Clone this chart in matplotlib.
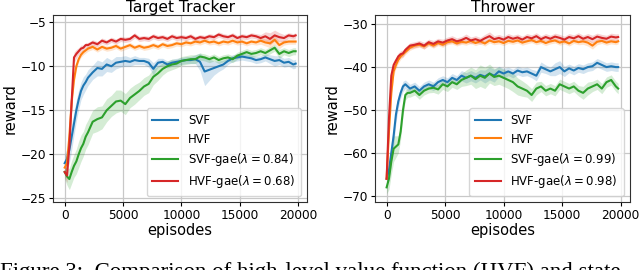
import matplotlib.pyplot as plt
import numpy as np

# episodes at which the (smoothed) reward was logged
episodes = list(range(0, 2000, 200)) + list(range(2000, 19800, 400)) + [19800]

labels_tt = ["SVF", "HVF", r"SVF-gae($\lambda=0.84$)", r"HVF-gae($\lambda=0.68$)"]
labels_th = ["SVF", "HVF", r"SVF-gae($\lambda=0.99$)", r"HVF-gae($\lambda=0.98$)"]
colors = ["#1f77b4", "#ff7f0e", "#2ca02c", "#d62728"]

# ---- Target Tracker ----
tt_svf = [-21.0, -20.5, -19.5, -18.0, -16.5, -15.0, -13.8, -12.8, -12.2, -11.8,
          -11.3, -10.7, -10.2, -10.3, -9.8, -10.0, -9.6, -9.5, -9.4, -9.5,
          -9.3, -9.4, -9.4, -9.6, -10.3, -9.6, -9.5, -9.8, -9.6, -9.5,
          -9.4, -9.3, -9.3, -9.2, -9.5, -10.6, -10.4, -10.2, -10.0, -9.8,
          -9.4, -9.1, -9.0, -8.9, -9.0, -9.1, -9.3, -9.2, -9.0, -9.2,
          -9.4, -9.3, -9.6, -9.5, -9.8, -9.7]
tt_hvf = [-21.5, -21.0, -18.0, -14.0, -11.5, -10.0, -9.2, -8.7, -8.4, -8.2,
          -8.0, -7.8, -8.1, -7.8, -8.0, -7.9, -7.7, -8.0, -7.8, -7.6,
          -7.9, -7.7, -7.9, -7.8, -7.6, -7.8, -7.5, -7.7, -7.6, -7.4,
          -7.5, -7.3, -7.4, -7.2, -7.3, -7.1, -7.3, -7.2, -7.4, -7.2,
          -7.3, -7.1, -7.3, -7.2, -7.4, -7.2, -7.3, -7.1, -7.3, -7.4,
          -7.0, -7.6, -7.3, -7.2, -7.2, -7.2]
tt_svf_gae = [-22.0, -22.5, -22.8, -22.0, -21.3, -20.8, -20.0, -19.3, -18.8, -18.0,
              -17.5, -16.3, -16.0, -15.8, -15.0, -14.5, -14.0, -13.9, -14.3, -13.6,
              -13.2, -12.8, -12.3, -12.0, -11.2, -10.8, -10.3, -10.0, -9.8, -9.7,
              -9.4, -9.3, -9.2, -9.2, -8.9, -9.0, -9.2, -9.0, -9.3, -9.1,
              -9.0, -9.2, -8.8, -8.6, -8.4, -8.6, -8.5, -8.3, -8.5, -8.2,
              -7.9, -8.6, -8.3, -8.5, -8.3, -8.3]
tt_hvf_gae = [-22.0, -22.4, -19.0, -14.0, -9.0, -8.6, -8.3, -8.0, -7.9, -7.6,
              -7.6, -7.3, -7.5, -7.1, -7.3, -7.0, -7.2, -6.9, -7.0, -6.9,
              -6.5, -6.9, -6.8, -6.9, -6.6, -6.8, -6.7, -6.9, -6.6, -6.8,
              -6.7, -6.8, -6.6, -6.9, -6.7, -6.8, -6.6, -6.7, -6.4, -6.6,
              -6.7, -6.5, -6.8, -6.6, -6.7, -6.5, -6.6, -6.8, -6.6, -6.9,
              -6.5, -6.7, -6.8, -6.5, -6.6, -6.5]

tt_svf_std = [1.0, 1.2, 1.5, 1.5, 1.3, 1.2, 1.1, 1.0, 1.0, 0.9,
              0.9, 0.8, 0.9, 0.8, 0.8, 0.7, 0.7, 0.6, 0.6, 0.5,
              0.5, 0.4, 0.4, 0.5, 0.7, 0.5, 0.4, 0.4, 0.4, 0.4,
              0.4, 0.4, 0.4, 0.5, 1.0, 1.6, 1.2, 0.8, 0.6, 0.5,
              0.4, 0.4, 0.4, 0.4, 0.4, 0.4, 0.4, 0.4, 0.4, 0.5,
              0.6, 0.5, 0.5, 0.5, 0.5, 0.5]
tt_hvf_std = [0.6, 0.8, 1.0, 1.0, 0.6, 0.4, 0.3, 0.3, 0.3, 0.3,
              0.3, 0.3, 0.3, 0.3, 0.3, 0.3, 0.3, 0.3, 0.3, 0.3,
              0.3, 0.3, 0.3, 0.3, 0.3, 0.3, 0.3, 0.3, 0.3, 0.3,
              0.3, 0.3, 0.3, 0.3, 0.3, 0.3, 0.3, 0.3, 0.3, 0.3,
              0.3, 0.3, 0.3, 0.3, 0.3, 0.3, 0.3, 0.4, 0.4, 0.5,
              0.5, 0.4, 0.3, 0.3, 0.3, 0.3]
tt_svf_gae_std = [0.8, 1.0, 1.2, 1.3, 1.3, 1.4, 1.5, 1.5, 1.4, 1.4,
                  1.4, 1.3, 1.4, 1.3, 1.3, 1.2, 1.3, 1.2, 1.2, 1.1,
                  1.1, 1.0, 1.0, 1.0, 0.9, 0.8, 0.7, 0.6, 0.6, 0.5,
                  0.5, 0.5, 0.5, 0.5, 0.4, 0.4, 0.4, 0.4, 0.4, 0.4,
                  0.4, 0.4, 0.4, 0.4, 0.4, 0.4, 0.4, 0.4, 0.4, 0.4,
                  0.4, 0.5, 0.4, 0.4, 0.4, 0.4]
tt_hvf_gae_std = [0.6, 0.8, 1.0, 1.0, 0.6, 0.5, 0.4, 0.4, 0.3, 0.3,
                  0.3, 0.3, 0.3, 0.3, 0.3, 0.3, 0.3, 0.3, 0.3, 0.3,
                  0.3, 0.3, 0.3, 0.3, 0.3, 0.3, 0.3, 0.3, 0.3, 0.3,
                  0.3, 0.3, 0.3, 0.3, 0.3, 0.3, 0.3, 0.3, 0.3, 0.3,
                  0.3, 0.3, 0.3, 0.3, 0.3, 0.3, 0.3, 0.4, 0.5, 0.7,
                  0.6, 0.5, 0.4, 0.3, 0.3, 0.3]

# ---- Thrower ----
th_svf = [-66.0, -64.0, -60.0, -56.0, -51.0, -48.0, -46.0, -44.5, -44.0, -44.5,
          -45.0, -44.5, -45.5, -44.5, -44.0, -44.5, -43.5, -43.0, -43.5, -42.5,
          -43.0, -42.0, -42.5, -42.0, -42.5, -41.8, -42.2, -41.5, -42.0, -41.0,
          -41.5, -41.0, -41.5, -40.8, -41.2, -41.0, -41.5, -42.0, -40.0, -40.5,
          -41.0, -40.5, -40.0, -41.0, -40.3, -40.8, -40.2, -40.5, -40.0, -39.8,
          -39.0, -39.5, -40.0, -39.8, -40.0, -40.0]
th_hvf = [-66.0, -55.0, -46.0, -41.0, -39.5, -38.3, -37.5, -37.0, -36.5, -36.0,
          -35.5, -35.0, -34.8, -35.2, -34.5, -35.0, -34.4, -34.8, -34.2, -34.0,
          -34.5, -34.1, -34.3, -33.9, -34.4, -34.0, -34.5, -33.8, -34.2, -34.0,
          -34.4, -33.9, -34.1, -33.8, -34.3, -34.0, -33.7, -34.2, -33.9, -34.4,
          -34.0, -33.8, -34.3, -34.0, -34.5, -33.9, -34.2, -34.0, -34.3, -35.0,
          -34.1, -33.9, -34.3, -34.0, -34.2, -34.0]
th_svf_gae = [-68.0, -66.0, -62.0, -59.0, -58.5, -58.0, -55.0, -50.0, -46.5, -46.0,
              -46.0, -45.5, -46.5, -45.5, -45.0, -44.8, -45.2, -44.0, -44.5, -43.5,
              -44.0, -43.0, -42.5, -42.0, -42.8, -42.0, -42.5, -41.5, -42.3, -42.0,
              -42.5, -43.0, -43.5, -44.5, -45.0, -45.5, -46.5, -45.0, -44.5, -45.5,
              -45.0, -45.5, -44.0, -44.5, -45.0, -44.5, -45.5, -46.0, -45.0, -44.5,
              -44.0, -45.0, -43.5, -43.0, -44.5, -45.0]
th_hvf_gae = [-66.0, -52.0, -42.0, -39.5, -38.5, -37.5, -37.0, -36.8, -36.0, -35.5,
              -35.0, -34.8, -34.5, -35.0, -34.2, -34.6, -34.0, -34.3, -33.8, -33.5,
              -34.0, -33.7, -33.2, -33.8, -33.5, -33.9, -33.3, -32.8, -33.5, -33.2,
              -33.6, -33.0, -33.4, -33.1, -33.6, -33.0, -33.3, -32.8, -33.5, -33.0,
              -33.4, -32.9, -33.2, -33.6, -33.0, -33.3, -32.8, -33.4, -33.0, -33.5,
              -32.9, -33.2, -33.4, -32.9, -33.1, -33.0]

th_svf_std = [1.5, 2.0, 2.5, 2.5, 2.0, 1.5, 1.2, 1.2, 1.0, 1.0,
              1.0, 1.0, 1.0, 1.0, 1.0, 1.0, 1.0, 1.0, 1.0, 1.0,
              1.0, 1.2, 1.2, 1.2, 1.2, 1.2, 1.5, 1.5, 1.5, 1.2,
              1.2, 1.0, 1.0, 1.0, 1.0, 1.0, 1.0, 1.2, 1.2, 1.0,
              1.0, 1.5, 1.5, 1.2, 1.0, 1.0, 1.0, 1.0, 1.0, 1.0,
              1.0, 1.0, 1.0, 1.0, 1.0, 1.0]
th_hvf_std = [1.5, 2.0, 1.5, 1.0, 0.8, 0.8, 0.7, 0.7, 0.6, 0.6,
              0.6, 0.6, 0.6, 0.6, 0.6, 0.6, 0.6, 0.6, 0.6, 0.6,
              0.6, 0.6, 0.6, 0.6, 0.6, 0.6, 0.6, 0.6, 0.6, 0.6,
              0.6, 0.6, 0.6, 0.6, 0.6, 0.6, 0.6, 0.6, 0.6, 0.6,
              0.6, 0.6, 0.6, 0.6, 0.6, 0.6, 0.6, 0.7, 0.8, 0.8,
              0.7, 0.6, 0.6, 0.6, 0.6, 0.6]
th_svf_gae_std = [1.5, 2.5, 3.0, 3.0, 2.5, 2.0, 1.8, 1.5, 1.2, 1.0,
                  1.0, 1.0, 1.0, 1.0, 1.0, 1.1, 1.1, 1.2, 1.2, 1.2,
                  1.2, 1.5, 1.8, 2.0, 2.2, 2.5, 2.5, 2.2, 2.0, 2.0,
                  2.0, 2.0, 2.2, 2.0, 1.8, 1.5, 1.5, 1.5, 1.2, 1.2,
                  1.2, 1.2, 1.2, 1.2, 1.2, 1.2, 1.2, 1.5, 1.5, 1.2,
                  1.2, 1.2, 1.2, 1.2, 1.2, 1.2]
th_hvf_gae_std = [1.5, 2.0, 1.5, 1.0, 0.8, 0.8, 0.8, 0.8, 0.7, 0.7,
                  0.7, 0.7, 0.7, 0.8, 0.7, 0.8, 0.7, 0.8, 0.8, 0.8,
                  0.8, 0.8, 0.9, 0.8, 0.8, 0.8, 0.9, 1.0, 0.8, 0.8,
                  0.8, 0.8, 0.8, 0.8, 0.8, 0.8, 0.8, 0.8, 0.8, 0.8,
                  0.8, 0.8, 0.8, 0.8, 0.8, 0.8, 0.8, 0.8, 0.8, 0.9,
                  0.8, 0.8, 0.8, 0.8, 0.8, 0.8]


def draw_panel(ax, title, means, stds, labels, yticks, ylim):
    x = np.array(episodes)
    for m, s, c, lab in zip(means, stds, colors, labels):
        m = np.array(m)
        s = np.array(s)
        ax.fill_between(x, m - s, m + s, color=c, alpha=0.2, linewidth=0)
        ax.plot(x, m, color=c, linewidth=1.5, label=lab)
    ax.set_title(title, fontsize=11.2, pad=2)
    ax.set_xlabel("episodes", fontsize=10.5, labelpad=1)
    ax.set_ylabel("reward", fontsize=10.5, labelpad=2)
    ax.set_xticks([0, 5000, 10000, 15000, 20000])
    ax.set_yticks(yticks)
    ax.set_ylim(ylim)
    ax.tick_params(labelsize=8.7, length=3, pad=2)
    ax.grid(True, color="#c8c8c8", linewidth=0.9)
    ax.set_axisbelow(True)
    for sp in ax.spines.values():
        sp.set_color("#303030")
    ax.legend(loc="lower right", fontsize=8.5, handlelength=2.2,
              borderpad=0.5, labelspacing=0.45)


fig = plt.figure(figsize=(6.4, 2.7), dpi=100)
ax1 = fig.add_axes([0.083, 0.252, 0.397, 0.692])
ax2 = fig.add_axes([0.586, 0.252, 0.398, 0.692])

draw_panel(ax1, "Target Tracker",
           [tt_svf, tt_hvf, tt_svf_gae, tt_hvf_gae],
           [tt_svf_std, tt_hvf_std, tt_svf_gae_std, tt_hvf_gae_std],
           labels_tt, [-25, -20, -15, -10, -5], (-25.4, -4.2))
draw_panel(ax2, "Thrower",
           [th_svf, th_hvf, th_svf_gae, th_hvf_gae],
           [th_svf_std, th_hvf_std, th_svf_gae_std, th_hvf_gae_std],
           labels_th, [-70, -60, -50, -40, -30], (-71.4, -27.9))

# caption of the paper figure, mostly cut off by the image border
fig.text(0.0, 1 - 262 / 270, "Figure 3:  Comparison of high-level value function (HVF) and state",
         family="Liberation Serif", fontsize=16.5, va="top", ha="left")

fig.savefig("out.png", dpi=100)
